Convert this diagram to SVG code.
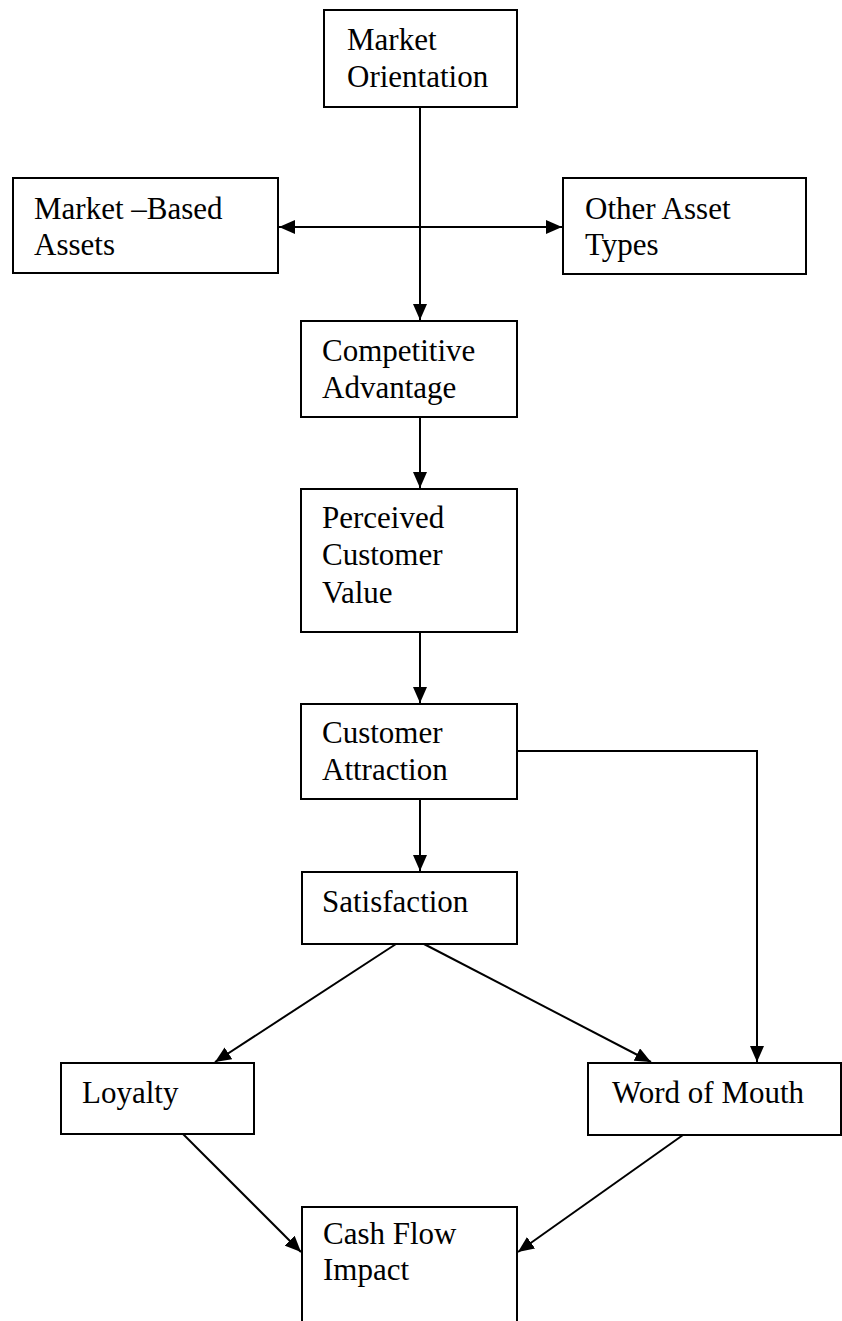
<svg xmlns="http://www.w3.org/2000/svg" width="842" height="1321" viewBox="0 0 842 1321">
  <style>
    .box { fill: #fff; stroke: #000; stroke-width: 2; }
    .lbl { font-family: "Liberation Serif", "Times New Roman", serif; font-size: 31px; fill: #000; }
    .edge { fill: none; stroke: #000; stroke-width: 2; }
  </style>
  <defs>
    <marker id="arrow" viewBox="0 0 16 14" refX="16" refY="7" markerWidth="16" markerHeight="14" markerUnits="userSpaceOnUse" orient="auto-start-reverse">
      <path d="M0,0 L16,7 L0,14 Z" fill="#000"/>
    </marker>
  </defs>
  <rect width="842" height="1321" fill="#fff"/>

  <g id="connectors">
    <!-- main spine -->
    <line class="edge" x1="420" y1="107" x2="420" y2="320" marker-end="url(#arrow)"/>
    <!-- asset link, both directions -->
    <line class="edge" x1="279" y1="227" x2="562" y2="227" marker-start="url(#arrow)" marker-end="url(#arrow)"/>
    <line class="edge" x1="420" y1="417" x2="420" y2="488" marker-end="url(#arrow)"/>
    <line class="edge" x1="420" y1="632" x2="420" y2="703" marker-end="url(#arrow)"/>
    <line class="edge" x1="420" y1="799" x2="420" y2="871" marker-end="url(#arrow)"/>
    <!-- attraction to word of mouth -->
    <polyline class="edge" points="517,751 757,751 757,1062" marker-end="url(#arrow)"/>
    <!-- satisfaction fan-out -->
    <line class="edge" x1="396" y1="944" x2="215" y2="1062" marker-end="url(#arrow)"/>
    <line class="edge" x1="424" y1="944" x2="651" y2="1062" marker-end="url(#arrow)"/>
    <!-- into cash flow -->
    <line class="edge" x1="183" y1="1134" x2="301" y2="1252" marker-end="url(#arrow)"/>
    <line class="edge" x1="683" y1="1135" x2="518" y2="1252" marker-end="url(#arrow)"/>
  </g>

  <g id="market-orientation">
    <rect class="box" x="324" y="10" width="193" height="97"/>
    <text class="lbl" x="347" y="50">Market</text>
    <text class="lbl" x="347" y="87">Orientation</text>
  </g>

  <g id="market-based-assets">
    <rect class="box" x="13" y="178" width="265" height="95"/>
    <text class="lbl" x="34" y="219">Market –Based</text>
    <text class="lbl" x="34" y="255">Assets</text>
  </g>

  <g id="other-asset-types">
    <rect class="box" x="563" y="178" width="243" height="96"/>
    <text class="lbl" x="585" y="219">Other Asset</text>
    <text class="lbl" x="585" y="255">Types</text>
  </g>

  <g id="competitive-advantage">
    <rect class="box" x="301" y="321" width="216" height="96"/>
    <text class="lbl" x="322" y="361">Competitive</text>
    <text class="lbl" x="322" y="398">Advantage</text>
  </g>

  <g id="perceived-customer-value">
    <rect class="box" x="301" y="489" width="216" height="143"/>
    <text class="lbl" x="322" y="528">Perceived</text>
    <text class="lbl" x="322" y="565">Customer</text>
    <text class="lbl" x="322" y="603">Value</text>
  </g>

  <g id="customer-attraction">
    <rect class="box" x="301" y="704" width="216" height="95"/>
    <text class="lbl" x="322" y="743">Customer</text>
    <text class="lbl" x="322" y="780">Attraction</text>
  </g>

  <g id="satisfaction">
    <rect class="box" x="302" y="872" width="215" height="72"/>
    <text class="lbl" x="322" y="912">Satisfaction</text>
  </g>

  <g id="loyalty">
    <rect class="box" x="61" y="1063" width="193" height="71"/>
    <text class="lbl" x="82" y="1103">Loyalty</text>
  </g>

  <g id="word-of-mouth">
    <rect class="box" x="588" y="1063" width="253" height="72"/>
    <text class="lbl" x="612" y="1103">Word of Mouth</text>
  </g>

  <g id="cash-flow-impact">
    <rect class="box" x="302" y="1207" width="215" height="130"/>
    <text class="lbl" x="323" y="1244">Cash Flow</text>
    <text class="lbl" x="323" y="1280">Impact</text>
  </g>
</svg>
